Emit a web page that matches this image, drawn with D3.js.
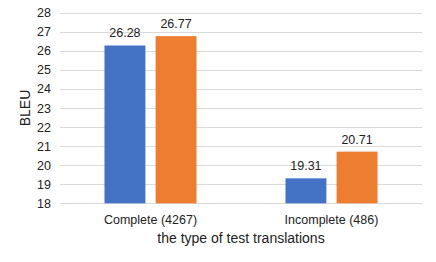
<!DOCTYPE html>
<html><head><meta charset="utf-8">
<script src="https://cdn.jsdelivr.net/npm/d3@7"></script>
<style>body{margin:0;background:#fff}svg{display:block}text{font-family:"Liberation Sans",Arial,sans-serif;fill:#222}</style>
</head><body><svg id="c" width="436" height="262"></svg>
<script>
const categories = ["Complete (4267)", "Incomplete (486)"];
const seriesNames = ["A", "B"];
const seriesA = [26.28, 19.31];
const seriesB = [26.77, 20.71];
const yTicks = [18,19,20,21,22,23,24,25,26,27,28];
const colors = ["#4472C4", "#ED7D31"];

const svg = d3.select("#c");
const m = {l:60, r:14, t:13, b:58};
const W = 436, H = 262;
const x = d3.scaleBand().domain(categories).range([m.l, W - m.r]);
const y = d3.scaleLinear().domain([18, 28]).range([203.3, 12.7]);

svg.append("g").selectAll("line").data(yTicks).join("line")
  .attr("x1", m.l).attr("x2", W - m.r)
  .attr("y1", d => Math.round(y(d)) + 0.5).attr("y2", d => Math.round(y(d)) + 0.5)
  .attr("stroke", "#d9d9d9").attr("stroke-width", 1);

svg.append("g").selectAll("text").data(yTicks).join("text")
  .attr("x", 51).attr("y", d => y(d) + 4.5).attr("text-anchor", "end")
  .attr("font-size", 12.5).text(d => d);

const inner = d3.scaleBand().domain(seriesNames).range([0, x.bandwidth()]).paddingInner(0.2).paddingOuter(0.87);
const data = [];
categories.forEach((c, i) => {
  data.push({c, s: "A", v: seriesA[i], col: colors[0]});
  data.push({c, s: "B", v: seriesB[i], col: colors[1]});
});

svg.append("g").selectAll("rect").data(data).join("rect")
  .attr("x", d => x(d.c) + inner(d.s))
  .attr("width", inner.bandwidth())
  .attr("y", d => y(d.v))
  .attr("height", d => y(18) - y(d.v))
  .attr("fill", d => d.col);

svg.append("g").selectAll("text").data(data).join("text")
  .attr("x", d => x(d.c) + inner(d.s) + inner.bandwidth()/2)
  .attr("y", d => y(d.v) - 8)
  .attr("text-anchor", "middle").attr("font-size", 12.5)
  .text(d => d.v.toFixed(2));

svg.append("g").selectAll("text").data(categories).join("text")
  .attr("x", d => x(d) + x.bandwidth()/2).attr("y", 224)
  .attr("text-anchor", "middle").attr("font-size", 12.5).text(d => d);

svg.append("text").attr("x", (m.l + W - m.r)/2).attr("y", 243)
  .attr("text-anchor", "middle").attr("font-size", 14).text("the type of test translations");

svg.append("text").attr("transform", "translate(30," + ((12.7+203.3)/2) + ") rotate(-90)")
  .attr("text-anchor", "middle").attr("font-size", 14).text("BLEU");
</script></body></html>
